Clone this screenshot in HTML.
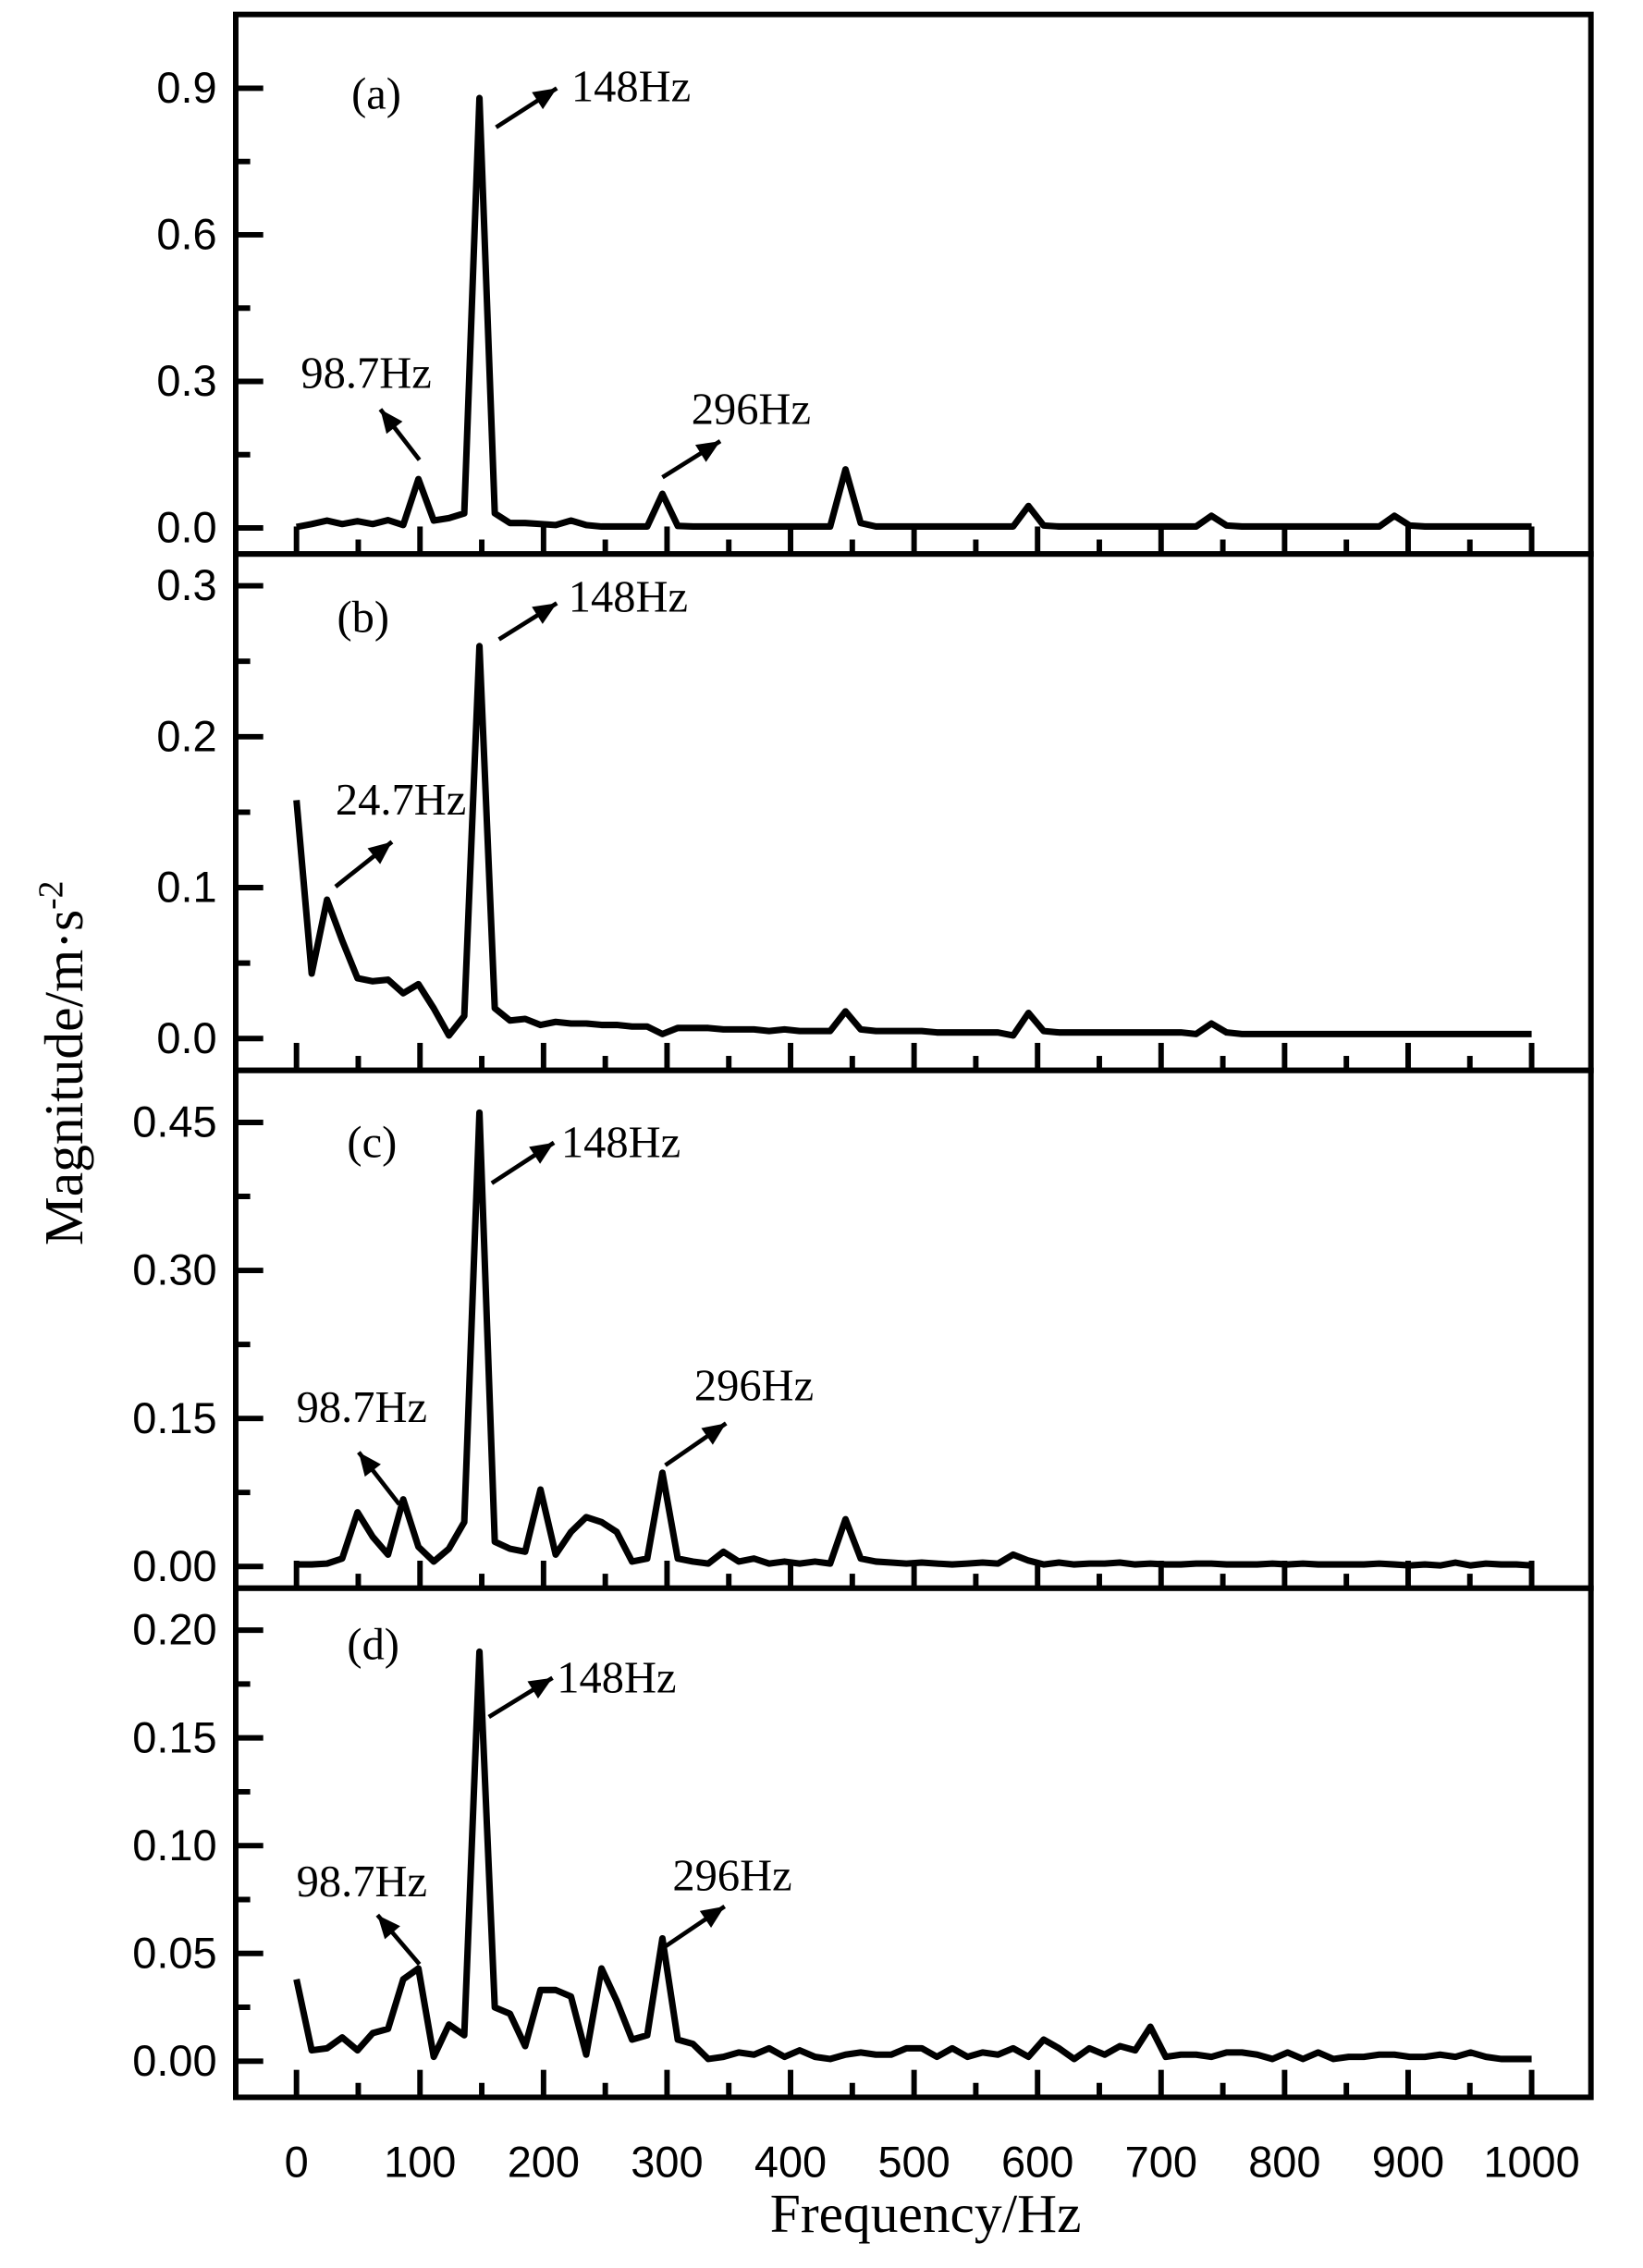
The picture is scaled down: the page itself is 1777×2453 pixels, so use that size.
<!DOCTYPE html>
<html><head><meta charset="utf-8"><style>html,body{margin:0;padding:0;background:#fff}svg{display:block}</style></head>
<body>
<svg id="s" xmlns="http://www.w3.org/2000/svg" width="1777" height="2453" viewBox="0 0 1136 1568" preserveAspectRatio="none">
<rect width="1136" height="1568" fill="#fff"/>
<g id="g"></g>
</svg>
<script>
const NS="http://www.w3.org/2000/svg";
const g=document.getElementById('g');
function el(t,a,txt){const e=document.createElementNS(NS,t);for(const k in a)e.setAttribute(k,a[k]);if(txt!==undefined)e.textContent=txt;g.appendChild(e);return e;}
const L=163,R=1100,X0=205,X1=1059;
const fx=f=>X0+(X1-X0)*f/1000;
const panels=[
 {top:10,bot:383,y0:365,yv:0.9,yp:61,ticks:[0,0.3,0.6,0.9],fmt:1,minor:0.15,
  d:{0:.002,1:.008,2:.015,3:.008,4:.014,5:.008,6:.016,7:.006,8:.10,9:.015,10:.02,11:.03,12:.88,13:.03,14:.01,15:.01,16:.008,17:.006,18:.015,19:.006,24:.07,25:.004,36:.12,37:.01,48:.045,49:.005,60:.025,61:.005,72:.025,73:.005}},
 {top:383,bot:740,y0:718,yv:0.3,yp:405,ticks:[0,0.1,0.2,0.3],fmt:1,minor:0.05,
  d:{0:.158,1:.043,2:.092,3:.065,4:.04,5:.038,6:.039,7:.03,8:.036,9:.02,10:.002,11:.015,12:.26,13:.02,14:.012,15:.013,16:.009,17:.011,18:.01,19:.01,20:.009,21:.009,22:.008,23:.008,24:.003,25:.007,26:.007,27:.007,28:.006,29:.006,30:.006,31:.005,32:.006,33:.005,34:.005,35:.005,36:.018,37:.006,38:.005,39:.005,40:.005,41:.005,42:.004,43:.004,44:.004,45:.004,46:.004,47:.002,48:.017,49:.005,50:.004,51:.004,52:.004,53:.004,54:.004,55:.004,56:.004,57:.004,58:.004,59:.003,60:.01,61:.004}},
 {top:740,bot:1098,y0:1083,yv:0.45,yp:776,ticks:[0,0.15,0.30,0.45],fmt:2,minor:0.075,
  d:{0:.002,1:.002,2:.003,3:.008,4:.055,5:.03,6:.012,7:.068,8:.02,9:.005,10:.018,11:.045,12:.46,13:.025,14:.018,15:.015,16:.078,17:.012,18:.035,19:.05,20:.045,21:.035,22:.005,23:.008,24:.095,25:.008,26:.005,27:.003,28:.015,29:.005,30:.008,31:.003,32:.005,33:.003,34:.005,35:.003,36:.048,37:.008,38:.005,39:.004,40:.003,41:.004,42:.003,43:.002,44:.003,45:.004,46:.003,47:.012,48:.006,49:.002,50:.004,51:.002,52:.003,53:.003,54:.004,55:.002,56:.003,57:.002,58:.002,59:.003,60:.003,61:.002,62:.002,63:.002,64:.003,65:.002,66:.003,67:.002,68:.002,69:.002,70:.002,71:.003,72:.002,73:.001,74:.002,75:.001,76:.004,77:.001,78:.003,79:.002,80:.002,81:.001}},
 {top:1098,bot:1450,y0:1425,yv:0.2,yp:1127,ticks:[0,0.05,0.10,0.15,0.20],fmt:2,minor:0.025,
  d:{0:.038,1:.005,2:.006,3:.011,4:.005,5:.013,6:.015,7:.038,8:.043,9:.002,10:.017,11:.012,12:.19,13:.025,14:.022,15:.007,16:.033,17:.033,18:.03,19:.003,20:.043,21:.028,22:.01,23:.012,24:.057,25:.01,26:.008,27:.001,28:.002,29:.004,30:.003,31:.006,32:.002,33:.005,34:.002,35:.001,36:.003,37:.004,38:.003,39:.003,40:.006,41:.006,42:.002,43:.006,44:.002,45:.004,46:.003,47:.006,48:.002,49:.01,50:.006,51:.001,52:.006,53:.003,54:.007,55:.005,56:.016,57:.002,58:.003,59:.003,60:.002,61:.004,62:.004,63:.003,64:.001,65:.004,66:.001,67:.004,68:.001,69:.002,70:.002,71:.003,72:.003,73:.002,74:.002,75:.003,76:.002,77:.004,78:.002,79:.001,80:.001,81:.001}}
];
const step=1000/81;
panels.forEach((p,i)=>{
  const fy=v=>p.y0-(p.y0-p.yp)*v/p.yv;
  el('rect',{x:L,y:p.top,width:R-L,height:p.bot-p.top,fill:'none',stroke:'#000','stroke-width':3.8});
  p.ticks.forEach(v=>{const y=fy(v);el('line',{x1:L,y1:y,x2:L+19,y2:y,stroke:'#000','stroke-width':3.8});
    el('text',{x:150,y:y+10,'text-anchor':'end','font-family':'Liberation Sans, sans-serif','font-size':30},v.toFixed(p.fmt));});
  for(let v=p.minor;v<p.yv*1.1;v+=2*p.minor){const y=fy(v);if(y>p.top+3)el('line',{x1:L,y1:y,x2:L+10,y2:y,stroke:'#000','stroke-width':3.8});}
  for(let f=0;f<=1000;f+=50){const x=fx(f);el('line',{x1:x,y1:p.bot,x2:x,y2:p.bot-(f%100==0?19:10),stroke:'#000','stroke-width':3.8});}
  let pts=[];
  for(let k=0;k<=81;k++){let v=p.d[k];if(v===undefined)v=0.003;pts.push(fx(k*step).toFixed(1)+','+fy(v).toFixed(1));}
  el('polyline',{points:pts.join(' '),fill:'none',stroke:'#000','stroke-width':4.5,'stroke-linejoin':'round'});
});
for(let f=0;f<=1000;f+=100)el('text',{x:fx(f),y:1505,'text-anchor':'middle','font-family':'Liberation Sans, sans-serif','font-size':30},String(f));
el('text',{x:640,y:1543,'text-anchor':'middle','font-family':'Liberation Serif, serif','font-size':38},'Frequency/Hz');
const yt=el('text',{transform:'translate(57,735) rotate(-90)','text-anchor':'middle','font-family':'Liberation Serif, serif','font-size':38},'Magnitude/m·s');
const ts=document.createElementNS(NS,'tspan');ts.setAttribute('dy','-14');ts.setAttribute('font-size','24');ts.textContent='-2';yt.appendChild(ts);
const S='Liberation Serif, serif';
function T(x,y,s){el('text',{x:x,y:y,'font-family':S,'font-size':31},s);}
function A(x1,y1,x2,y2){el('line',{x1:x1,y1:y1,x2:x2,y2:y2,stroke:'#000','stroke-width':3});
  const a=Math.atan2(y2-y1,x2-x1),l=16,w=7;
  const bx=x2-l*Math.cos(a),by=y2-l*Math.sin(a);
  el('polygon',{points:`${x2},${y2} ${bx+w*Math.sin(a)},${by-w*Math.cos(a)} ${bx-w*Math.sin(a)},${by+w*Math.cos(a)}`,fill:'#000'});}
T(243,75,'(a)');T(395,70,'148Hz');A(343,88,385,61);
T(208,268,'98.7Hz');A(290,318,263,283);
T(478,293,'296Hz');A(458,330,498,305);
T(233,437,'(b)');T(393,423,'148Hz');A(345,442,385,417);
T(232,563,'24.7Hz');A(232,613,271,582);
T(240,800,'(c)');T(388,800,'148Hz');A(340,818,383,790);
T(205,983,'98.7Hz');A(276,1040,248,1004);
T(480,968,'296Hz');A(460,1013,502,984);
T(240,1147,'(d)');T(385,1170,'148Hz');A(338,1187,382,1160);
T(205,1311,'98.7Hz');A(290,1358,261,1324);
T(465,1307,'296Hz');A(458,1347,501,1318);
</script>
</body></html>
